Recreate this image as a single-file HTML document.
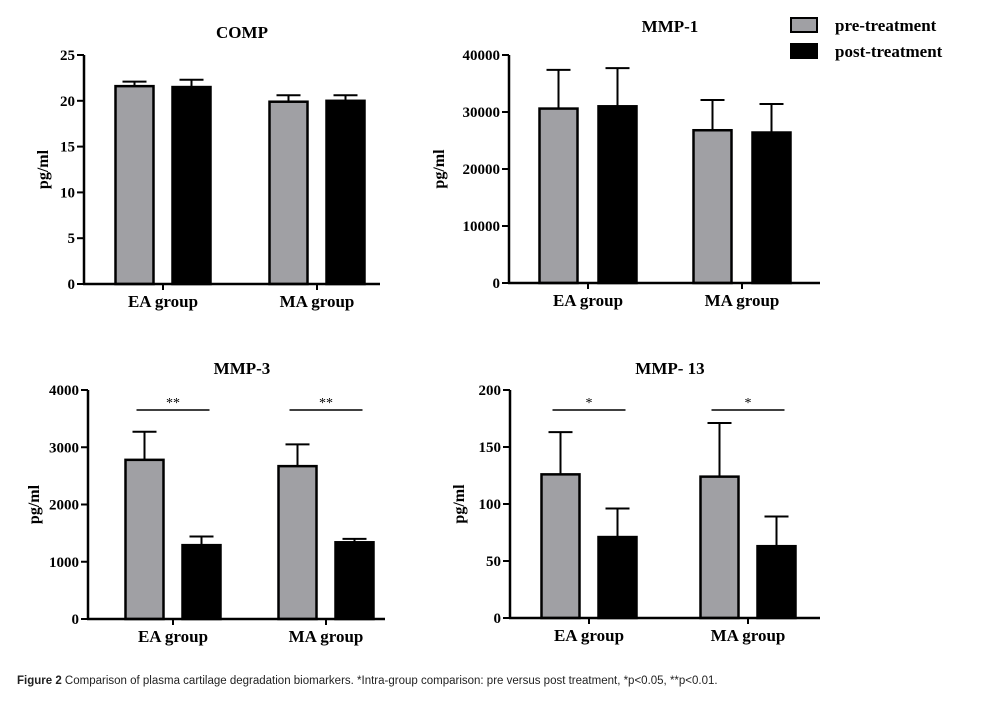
<!DOCTYPE html>
<html><head><meta charset="utf-8"><style>
html,body{margin:0;padding:0;background:#fff;}
svg{display:block;font-family:"Liberation Serif",serif;}
.cap{position:absolute;left:17px;top:675px;font-family:"Liberation Sans",sans-serif;font-size:11.5px;color:#222;}
</style></head><body>
<div style="position:relative;width:994px;height:706px;">
<svg id="chart" width="994" height="706"></svg>
<div class="cap"><b>Figure 2</b> Comparison of plasma cartilage degradation biomarkers. *Intra-group comparison: pre versus post treatment, *p&lt;0.05, **p&lt;0.01.</div>
</div>
<script>
const groups = ["EA group","MA group"];
const compPre = [21.6, 19.9], compPreErr = [0.5, 0.7];
const compPost = [21.5, 20.0], compPostErr = [0.8, 0.6];
const compTicks = [0,5,10,15,20,25];
const mmp1Pre = [30600, 26800], mmp1PreErr = [6800, 5300];
const mmp1Post = [31000, 26400], mmp1PostErr = [6700, 5000];
const mmp1Ticks = [0,10000,20000,30000,40000];
const mmp3Pre = [2780, 2670], mmp3PreErr = [490, 380];
const mmp3Post = [1290, 1340], mmp3PostErr = [150, 60];
const mmp3Ticks = [0,1000,2000,3000,4000];
const mmp3Sig = ["**","**"];
const mmp13Pre = [126, 124], mmp13PreErr = [37, 47];
const mmp13Post = [71, 63], mmp13PostErr = [25, 26];
const mmp13Ticks = [0,50,100,150,200];
const mmp13Sig = ["*","*"];

const svg = document.getElementById('chart');
const NS = 'http://www.w3.org/2000/svg';
function mk(tag, attrs, parent){const e=document.createElementNS(NS,tag);for(const k in attrs)e.setAttribute(k,attrs[k]);(parent||svg).appendChild(e);return e;}

function panel(p){
  const g = mk('g',{});
  
  
  const max = p.ticks[p.ticks.length-1];
  const y = v => p.y0 - (v/max)*(p.y0-p.yTop);
  const t = mk('text',{x:p.titleX,y:p.titleY,'text-anchor':'middle','font-size':17,'font-weight':'bold'},g);
  t.textContent = p.title;
  
  
  const yt = mk('text',{x:0,y:0,'text-anchor':'middle','font-size':16,'font-weight':'bold',transform:`translate(${p.ytX},${(p.y0+p.yTop)/2}) rotate(-90)`},g);
  yt.textContent = 'pg/ml';
  
  
  const bw = 38;
  groups.forEach((gn,i)=>{
    const cx = p.gx[i];
    [[p.pre,p.preErr,'#a0a0a4',-1],[p.post,p.postErr,'#000',1]].forEach(([vals,errs,fill,side])=>{
      const v = vals[i], e = errs[i];
      const x0 = side<0 ? cx-p.gap/2-bw : cx+p.gap/2;
      const top = y(v), et = y(v+e);
      const ln = mk('line',{x1:x0+bw/2,x2:x0+bw/2,y1:top,y2:et,stroke:'#000','stroke-width':2},g);
      
      
      mk('line',{x1:x0+bw/2-12,x2:x0+bw/2+12,y1:et,y2:et,stroke:'#000','stroke-width':2},g);
      const r = mk('rect',{x:x0,y:top,width:bw,height:p.y0-top,fill:fill,stroke:'#000','stroke-width':2.5},g);
      
      
    });
    const gl = mk('text',{x:cx,y:p.y0+23,'text-anchor':'middle','font-size':17,'font-weight':'bold'},g);
    gl.textContent = gn;
    
    
    mk('line',{x1:cx,x2:cx,y1:p.y0,y2:p.y0+6,stroke:'#000','stroke-width':2},g);
    if(p.sig){
      const sy = p.yTop+20;
      const sl = mk('line',{x1:cx-p.gap/2-bw/2-8,x2:cx+p.gap/2+bw/2+8,y1:sy,y2:sy,stroke:'#000','stroke-width':1.5},g);
      
      
      const st = mk('text',{x:cx,y:sy-3,'text-anchor':'middle','font-size':14},g);
      st.textContent = p.sig[i];
      
      
    }
  });
  mk('line',{x1:p.ax,x2:p.ax,y1:p.yTop,y2:p.y0+1,stroke:'#000','stroke-width':2.5},g);
  mk('line',{x1:p.ax-1,x2:p.axEnd,y1:p.y0,y2:p.y0,stroke:'#000','stroke-width':2.5},g);
  p.ticks.forEach(tv=>{
    mk('line',{x1:p.ax-7,x2:p.ax,y1:y(tv),y2:y(tv),stroke:'#000','stroke-width':2},g);
    const tl = mk('text',{x:p.ax-9,y:y(tv)+5,'text-anchor':'end','font-size':15,'font-weight':'bold'},g);
    tl.textContent = tv;
    
    
  });
}
panel({name:'comp-panel',title:'COMP',titleX:242,titleY:38,ytX:48,ax:84,axEnd:380,yTop:55,y0:284,gx:[163,317],gap:19,pre:compPre,preErr:compPreErr,post:compPost,postErr:compPostErr,ticks:compTicks});
panel({name:'mmp1-panel',title:'MMP-1',titleX:670,titleY:32,ytX:444,ax:509,axEnd:820,yTop:55,y0:283,gx:[588,742],gap:21,pre:mmp1Pre,preErr:mmp1PreErr,post:mmp1Post,postErr:mmp1PostErr,ticks:mmp1Ticks});
panel({name:'mmp3-panel',title:'MMP-3',titleX:242,titleY:374,ytX:39,ax:88,axEnd:385,yTop:390,y0:619,gx:[173,326],gap:19,pre:mmp3Pre,preErr:mmp3PreErr,post:mmp3Post,postErr:mmp3PostErr,ticks:mmp3Ticks,sig:mmp3Sig});
panel({name:'mmp13-panel',title:'MMP- 13',titleX:670,titleY:374,ytX:464,ax:510,axEnd:820,yTop:390,y0:618,gx:[589,748],gap:19,pre:mmp13Pre,preErr:mmp13PreErr,post:mmp13Post,postErr:mmp13PostErr,ticks:mmp13Ticks,sig:mmp13Sig});

const lg = mk('g',{});


[['pre-treatment','#a0a0a4',18],['post-treatment','#000',44]].forEach(([lbl,fill,yy])=>{
  const r = mk('rect',{x:791,y:yy,width:26,height:14,fill:fill,stroke:'#000','stroke-width':2},lg);
  
  
  const t = mk('text',{x:835,y:yy+13,'font-size':17,'font-weight':'bold'},lg);
  t.textContent = lbl;
  
  
});
</script>
</body></html>
